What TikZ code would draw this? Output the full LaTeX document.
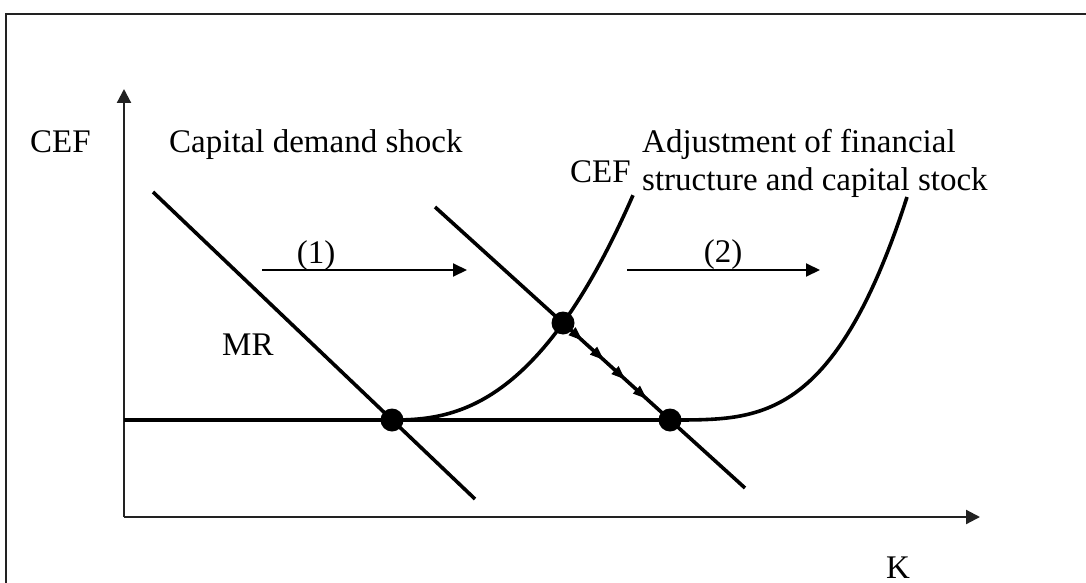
\documentclass[tikz,border=0pt]{standalone}
\usepackage{fontspec}
\setmainfont{Liberation Serif}
\usetikzlibrary{arrows.meta,decorations.markings}
\definecolor{fframe}{HTML}{222222}

\begin{document}
\begin{tikzpicture}[x=1pt, y=-1pt, font=\fontsize{33}{38}\selectfont,
  axis/.style={line width=2.2pt, draw=fframe, -{Triangle[length=14pt,width=14pt]}},
  curve/.style={line width=3.6pt},
  dot/.style={circle, fill=black, inner sep=0pt, minimum size=23pt},
  shiftarrow/.style={line width=2pt, -{Triangle[length=14pt,width=13pt]}},
  flow/.style={postaction=decorate, decoration={markings,
    mark=between positions 0.12 and 0.85 step 0.24 with {\arrow{Triangle[length=14pt,width=10pt]}}}},
  lbl/.style={inner sep=0pt, anchor=base west}]
\useasboundingbox (0,0) rectangle (1086,583);
% frame
\draw[line width=2.2pt, fframe] (6,583) -- (6,14) -- (1086,14);
% axes
\coordinate (O) at (124,517);
\coordinate (ytop) at (124,89);
\coordinate (xend) at (980,517);
\draw[axis] (O) -- (ytop);
\draw[axis] (O) -- (xend);
% equilibrium points
\node[dot] (e1) at (392,420) {};
\node[dot] (e2) at (563,323) {};
\node[dot] (e3) at (670,420) {};
% flat part of CEF
\coordinate (f0) at (124,420);
\draw[curve] (f0) -- (e3.center);
% MR before and after the shock
\coordinate (mr1a) at (153,192);
\coordinate (mr1b) at (475,499);
\coordinate (mr2a) at (435,207);
\coordinate (mr2b) at (745,488);
\draw[curve] (mr1a) -- (mr1b);
\draw[curve] (mr2a) -- (e2.center) -- (e3.center) -- (mr2b);
\draw[line width=2.4pt, flow] (e2) -- (e3);
% CEF curves
\draw[curve] plot[domain=1:241, samples=60] ({392+\x},{420-97*pow(\x/171,2.45)});
\draw[curve] plot[domain=1:237, samples=60] ({670+\x},{420-223*pow(\x/237,3.3)});
% shift arrows
\coordinate (s1a) at (262,270);
\coordinate (s1b) at (467,270);
\coordinate (s2a) at (627,270);
\coordinate (s2b) at (820,270);
\draw[shiftarrow] (s1a) -- (s1b);
\draw[shiftarrow] (s2a) -- (s2b);
\node[inner sep=0pt, anchor=base] (lab1) at (316,263) {(1)};
\node[inner sep=0pt, anchor=base] (lab2) at (723,262) {(2)};
% labels
\node[lbl] (ycef) at (30,152) {CEF};
\node[lbl] (shock) at (169,152) {Capital demand shock};
\node[lbl] (adj1) at (642,152) {Adjustment of financial};
\node[lbl] (adj2) at (642,190) {structure and capital stock};
\node[lbl] (cef) at (570,182) {CEF};
\node[lbl] (mr) at (222,355) {MR};
\node[inner sep=0pt, anchor=base] (klab) at (898,578) {K};
\end{tikzpicture}
\end{document}
